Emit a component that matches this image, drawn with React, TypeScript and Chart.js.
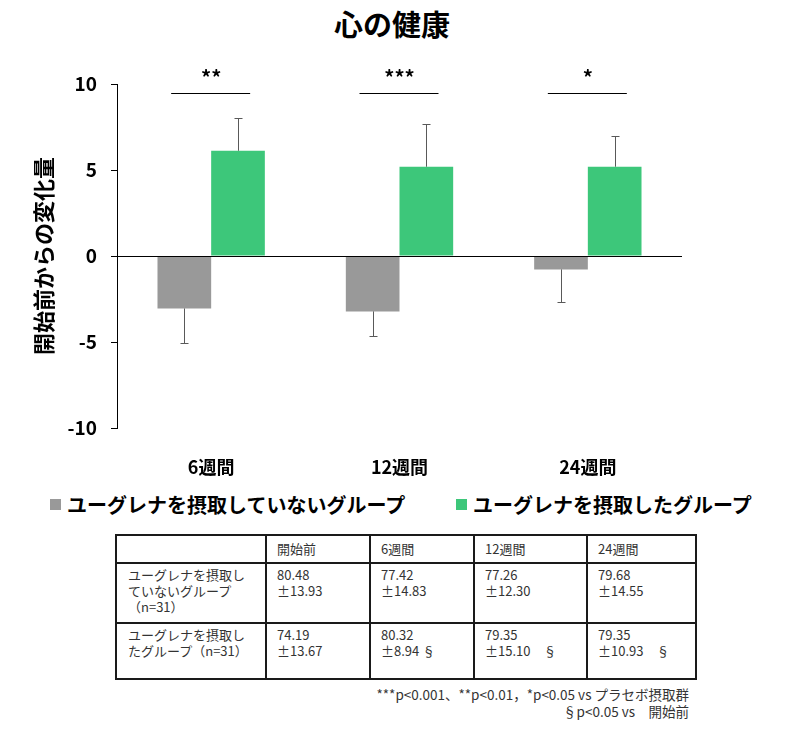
import React, { useEffect, useRef } from "react";
import { Chart, registerables } from "chart.js";

Chart.register(...registerables);

const categories = ["6週間", "12週間", "24週間"];
const seriesNames = ["ユーグレナを摂取していないグループ", "ユーグレナを摂取したグループ"];
const controlValues = [-3.05, -3.22, -0.78];
const controlSD = [2.01, 1.43, 1.89];
const euglenaValues = [6.12, 5.19, 5.19];
const euglenaSD = [1.9, 2.48, 1.79];
const sigLabels = ["**", "***", "*"];
const yTicks = [-10, -5, 0, 5, 10];

const tableHeader = ["", "開始前", "6週間", "12週間", "24週間"];
const controlRowLabel = ["ユーグレナを摂取し", "ていないグループ", "（n=31）"];
const controlMeans = ["80.48", "77.42", "77.26", "79.68"];
const controlSDs = ["±13.93", "±14.83", "±12.30", "±14.55"];
const euglenaRowLabel = ["ユーグレナを摂取し", "たグループ（n=31）"];
const euglenaMeans = ["74.19", "80.32", "79.35", "79.35"];
const euglenaSDs = ["±13.67", "±8.94 §", "±15.10　§", "±10.93　§"];
const footnotes = ["***p<0.001、**p<0.01，*p<0.05 vs プラセボ摂取群", "§p<0.05 vs　開始前"];

const GRAY = "#999999";
const GREEN = "#3DC77A";
const FONT = '"Noto Sans CJK JP", "Noto Sans", sans-serif';

const overlayPlugin = {
  id: "overlay",
  afterDatasetsDraw(chart: any) {
    const ctx = chart.ctx;
    const y = chart.scales.y;
    const x = chart.scales.x;
    const area = chart.chartArea;
    // zero line
    ctx.save();
    ctx.strokeStyle = "#000";
    ctx.lineWidth = 1.2;
    const y0 = Math.round(y.getPixelForValue(0)) + 0.5;
    ctx.beginPath();
    ctx.moveTo(area.left, y0);
    ctx.lineTo(area.right, y0);
    ctx.stroke();
    // error bars
    const sds = [controlSD, euglenaSD];
    const vals = [controlValues, euglenaValues];
    ctx.strokeStyle = "#595959";
    ctx.lineWidth = 1;
    for (let d = 0; d < 2; d++) {
      const meta = chart.getDatasetMeta(d);
      meta.data.forEach((el: any, j: number) => {
        const v = vals[d][j];
        const end = v >= 0 ? v + sds[d][j] : v - sds[d][j];
        const px = Math.round(el.x) + 0.5;
        const pe = Math.round(y.getPixelForValue(end)) + 0.5;
        ctx.beginPath();
        ctx.moveTo(px, el.y);
        ctx.lineTo(px, pe);
        ctx.moveTo(px - 4, pe);
        ctx.lineTo(px + 4, pe);
        ctx.stroke();
      });
    }
    // significance
    ctx.strokeStyle = "#000";
    ctx.fillStyle = "#000";
    ctx.lineWidth = 1;
    ctx.font = `bold 20px ${FONT}`;
    ctx.textAlign = "center";
    ctx.textBaseline = "middle";
    sigLabels.forEach((s, j) => {
      const cx = x.getPixelForValue(j);
      const ly = Math.round(y.getPixelForValue(9.45)) + 0.5;
      ctx.beginPath();
      ctx.moveTo(cx - 40, ly);
      ctx.lineTo(cx + 39, ly);
      ctx.stroke();
      ctx.fillText(s, cx, y.getPixelForValue(10.4));
    });
    ctx.restore();
  },
};

function ChartCanvas() {
  const ref = useRef<HTMLCanvasElement>(null);
  useEffect(() => {
    if (!ref.current) return;
    const chart = new Chart(ref.current, {
      type: "bar",
      data: {
        labels: categories,
        datasets: [
          { label: seriesNames[0], data: controlValues, backgroundColor: GRAY },
          { label: seriesNames[1], data: euglenaValues, backgroundColor: GREEN },
        ],
      },
      options: {
        responsive: false,
        animation: false,
        devicePixelRatio: 1,
        layout: { padding: { top: 84, right: 107, left: 0, bottom: 0 } },
        datasets: { bar: { categoryPercentage: 0.57, barPercentage: 1.0 } } as any,
        plugins: {
          legend: { display: false },
          tooltip: { enabled: false },
          title: { display: false },
        },
        scales: {
          x: {
            grid: { display: false },
            border: { display: false },
            ticks: { color: "#000", font: { family: FONT, size: 18, weight: "bold" }, padding: 20 },
            afterFit: (s: any) => {
              s.height = 52;
            },
          },
          y: {
            min: -10,
            max: 10,
            afterBuildTicks: (s: any) => {
              s.ticks = yTicks.map((v) => ({ value: v }));
            },
            grid: { display: true, drawOnChartArea: false, drawTicks: true, tickLength: 6, color: "#000" },
            border: { display: true, color: "#000", width: 1 },
            ticks: { color: "#000", font: { family: FONT, size: 19, weight: "bold" }, padding: 14 },
            title: {
              display: true,
              text: "開始前からの変化量",
              color: "#000",
              font: { family: FONT, size: 22, weight: "bold" },
              padding: { top: 30, bottom: 0 },
            },
            afterFit: (s: any) => {
              s.width = 117;
            },
          },
        },
      },
      plugins: [overlayPlugin],
    });
    return () => chart.destroy();
  }, []);
  return <canvas ref={ref} width={789} height={480} style={{ position: "absolute", left: 0, top: 0 }} />;
}

const cellBase: React.CSSProperties = {
  borderRight: "2px solid #1a1a1a",
  borderBottom: "2px solid #1a1a1a",
  boxSizing: "border-box",
  fontSize: 13,
  lineHeight: "15px",
  color: "#333",
  whiteSpace: "pre",
  overflow: "hidden",
};

export default function App() {
  const colW = [150, 104, 104, 113, 109];
  const rowH = [28, 60, 56];
  const rowStyle: React.CSSProperties = { ...cellBase, lineHeight: "16px", paddingTop: 3 };
  return (
    <div style={{ position: "absolute", left: 0, top: 0, width: 789, height: 733, background: "#fff", fontFamily: FONT }}>
      <div style={{ position: "absolute", left: 0, top: 5, width: 784, textAlign: "center", fontSize: 29, fontWeight: "bold", color: "#000", lineHeight: "36px" }}>
        心の健康
      </div>
      <ChartCanvas />
      {/* legend */}
      {seriesNames.map((n, i) => (
        <div key={n} style={{ position: "absolute", left: i === 0 ? 50 : 456, top: 489, height: 30, display: "flex", alignItems: "center" }}>
          <div style={{ width: 11, height: 11, background: i === 0 ? GRAY : GREEN, marginRight: 6 }} />
          <span style={{ fontSize: 20, fontWeight: "bold", color: "#000", whiteSpace: "nowrap" }}>{n}</span>
        </div>
      ))}
      {/* table */}
      <div
        style={{
          position: "absolute",
          left: 115,
          top: 534,
          display: "grid",
          gridTemplateColumns: colW.map((w) => w + "px").join(" "),
          gridTemplateRows: rowH.map((h) => h + "px").join(" "),
          borderLeft: "2px solid #1a1a1a",
          borderTop: "2px solid #1a1a1a",
        }}
      >
        {tableHeader.map((h, i) => (
          <div key={"h" + i} style={{ ...cellBase, padding: "5px 0 0 10px" }}>{h}</div>
        ))}
        <div style={{ ...rowStyle, paddingLeft: 11 }}>{controlRowLabel.join("\n")}</div>
        {controlMeans.map((m, i) => (
          <div key={"c" + i} style={{ ...rowStyle, paddingLeft: 10 }}>{m + "\n" + controlSDs[i]}</div>
        ))}
        <div style={{ ...rowStyle, paddingLeft: 11 }}>{euglenaRowLabel.join("\n")}</div>
        {euglenaMeans.map((m, i) => (
          <div key={"e" + i} style={{ ...rowStyle, paddingLeft: 10 }}>{m + "\n" + euglenaSDs[i]}</div>
        ))}
      </div>
      {/* footnotes */}
      <div style={{ position: "absolute", right: 100, top: 686, textAlign: "right", fontSize: 13.5, lineHeight: "17px", color: "#333", whiteSpace: "nowrap" }}>
        {footnotes.map((f) => (
          <div key={f}>{f}</div>
        ))}
      </div>
    </div>
  );
}
